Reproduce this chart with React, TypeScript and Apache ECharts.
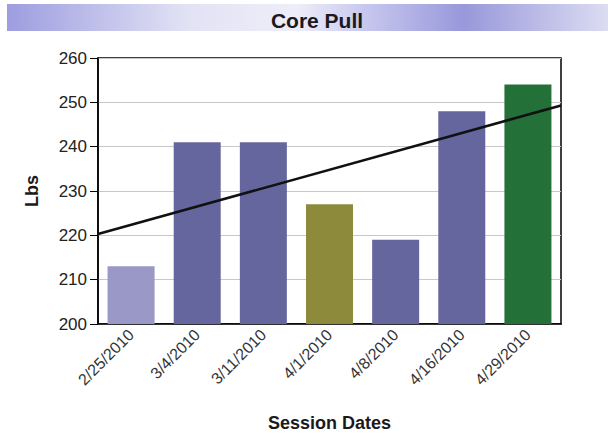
import React, { useEffect, useRef } from "react";
import * as echarts from "echarts";

const categories = ["2/25/2010", "3/4/2010", "3/11/2010", "4/1/2010", "4/8/2010", "4/16/2010", "4/29/2010"];
const values = [213, 241, 241, 227, 219, 248, 254];
const barColors = ["#9a98c6", "#66669e", "#66669e", "#8e8a3c", "#66669e", "#66669e", "#237038"];
const trendValues = [220.3, 249.3];
const yTicks = [200, 210, 220, 230, 240, 250, 260];

const FONT = "Liberation Sans, Arial";

export default function App() {
  const ref = useRef<HTMLDivElement>(null);
  useEffect(() => {
    const chart = echarts.init(ref.current!, null, { renderer: "svg" });
    chart.setOption({
      animation: false,
      graphic: [
        {
          type: "rect",
          left: 7,
          top: 4,
          shape: { width: 601, height: 27 },
          style: {
            fill: new echarts.graphic.LinearGradient(0, 0, 1, 0, [
              { offset: 0, color: "#9d9de0" },
              { offset: 0.3, color: "#e2e2f5" },
              { offset: 0.48, color: "#eeeef9" },
              { offset: 0.6, color: "#c6c6ee" },
              { offset: 0.76, color: "#9898db" },
              { offset: 1, color: "#dcdcf2" },
            ]),
          },
          z: -1,
        },
      ],
      title: {
        text: "Core Pull",
        left: 312,
        top: 5,
        textAlign: "center",
        textStyle: { fontFamily: FONT, fontSize: 21, fontWeight: "bold", color: "#1a1a1a" },
      },
      grid: { left: 98, right: 47, top: 58, bottom: 112, show: true, borderColor: "#000", borderWidth: 1.5, backgroundColor: "#fff" },
      xAxis: [
        {
          type: "category",
          data: categories,
          name: "Session Dates",
          nameLocation: "middle",
          nameGap: 90,
          nameTextStyle: { fontFamily: FONT, fontSize: 18, fontWeight: "bold", color: "#1a1a1a" },
          axisLine: { lineStyle: { color: "#000", width: 1.5 } },
          axisTick: { alignWithLabel: true, length: 6, lineStyle: { color: "#000", width: 1.5 } },
          axisLabel: { rotate: 45, fontFamily: FONT, fontSize: 16, color: "#333", margin: 8 },
        },
        { type: "value", min: 0, max: 1, show: false, position: "top" },
      ],
      yAxis: {
        type: "value",
        min: 200,
        max: 260,
        interval: 10,
        name: "Lbs",
        nameLocation: "middle",
        nameGap: 57,
        nameTextStyle: { fontFamily: FONT, fontSize: 18, fontWeight: "bold", color: "#1a1a1a" },
        axisLine: { show: true, lineStyle: { color: "#000", width: 1.5 } },
        axisTick: { show: true, length: 8, lineStyle: { color: "#000", width: 1 } },
        axisLabel: {
          fontFamily: FONT,
          fontSize: 17,
          color: "#222",
          margin: 11,
          formatter: (v: number) => (yTicks.includes(v) ? String(v) : ""),
        },
        splitLine: { show: true, lineStyle: { color: "#c8c8c8", width: 1 } },
      },
      series: [
        {
          type: "bar",
          data: values.map((v, i) => ({ value: v, itemStyle: { color: barColors[i] } })),
          barWidth: 47,
          xAxisIndex: 0,
        },
        {
          type: "line",
          xAxisIndex: 1,
          data: [[0, trendValues[0]], [1, trendValues[1]]],
          symbol: "none",
          lineStyle: { color: "#111", width: 2.5 },
          z: 5,
        },
      ],
    });
    return () => chart.dispose();
  }, []);
  return <div ref={ref} style={{ width: 608, height: 437, position: "absolute", left: 0, top: 0 }} />;
}
